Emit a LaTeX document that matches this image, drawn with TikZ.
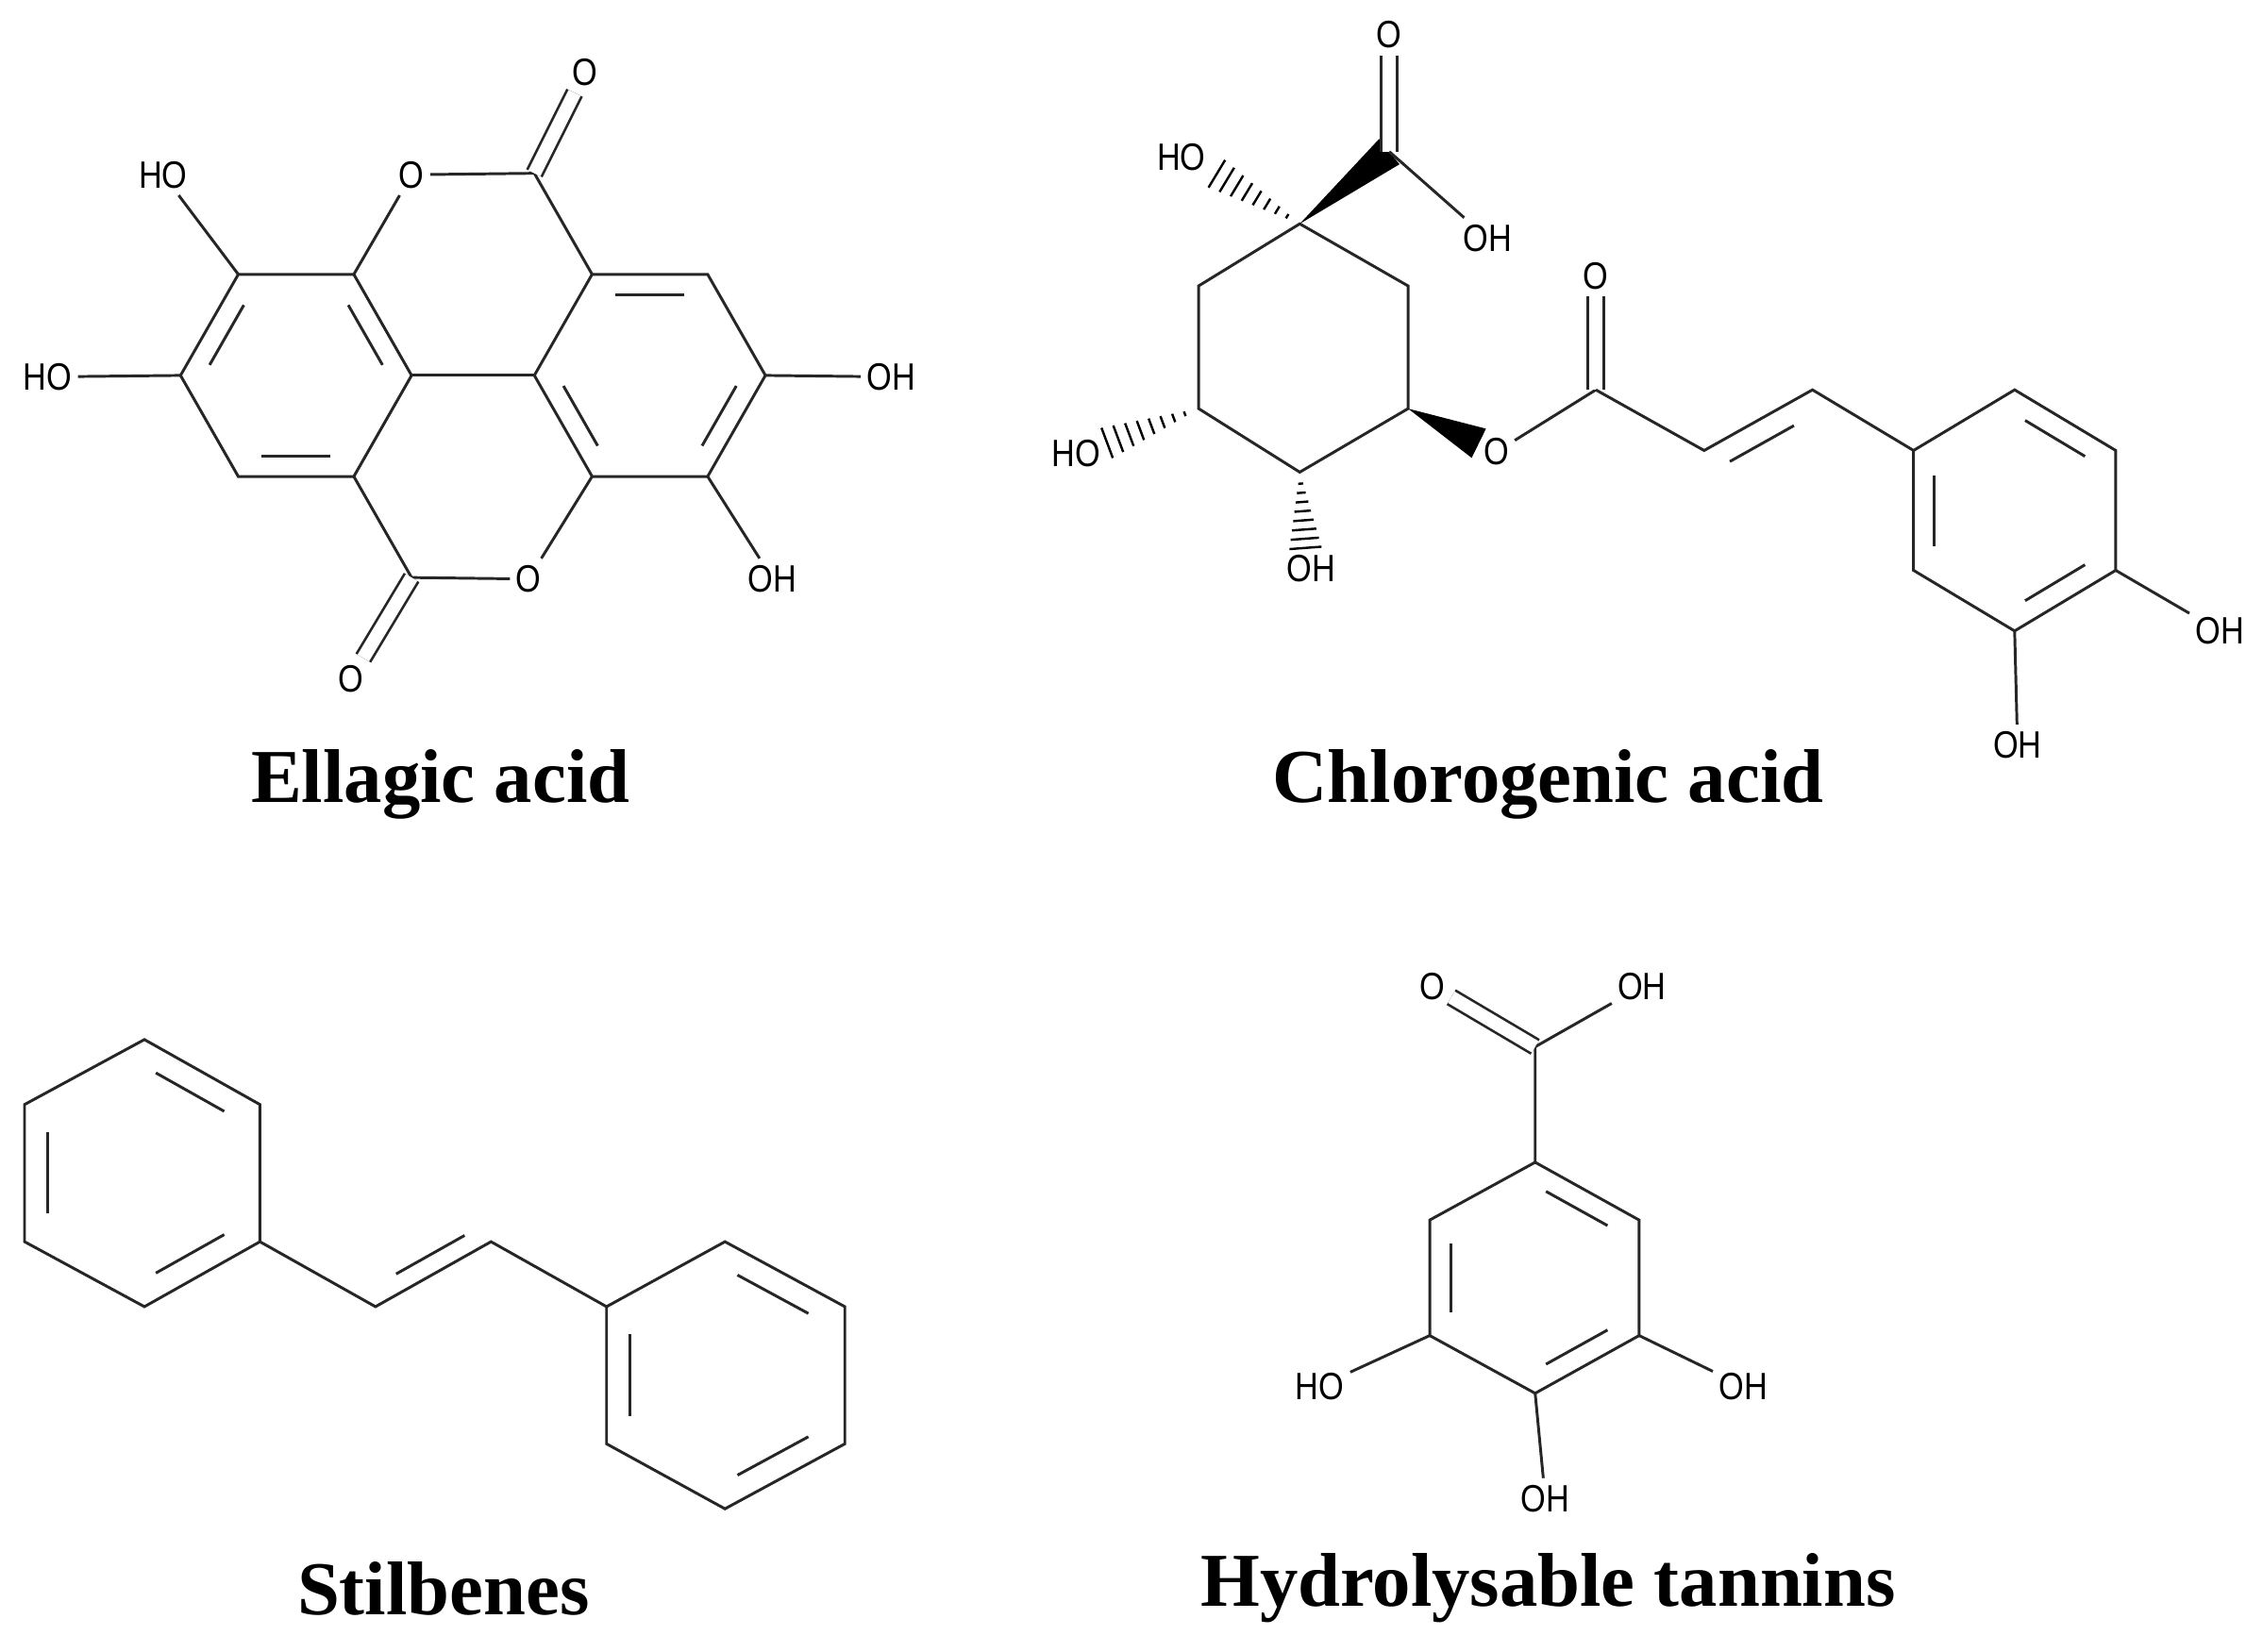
\documentclass[tikz,border=0pt]{standalone}
\usepackage{fontspec}
\setmainfont{Liberation Serif}
\newfontfamily\atomfont{Liberation Sans}
\usetikzlibrary{calc}
\tikzset{
  atom/.style={font=\atomfont\fontsize{7.5}{8}\selectfont, inner sep=1.2pt, xscale=0.85},
  title/.style={font=\bfseries\fontsize{15}{16}\selectfont},
  bond/.style={line width=0.55pt, black!85},
  dbond/.style={double=white, double distance=2.6pt, line width=0.5pt, draw=black!85}
}
\newcommand{\ib}[3]{\draw[bond] ($ ($(#1)!0.13!(#2)$)!0.2!(#3) $) -- ($ ($(#2)!0.13!(#1)$)!0.2!(#3) $);}
\newcommand{\wedgeb}[2]{\fill[black] (#1) -- ($(#2)!3.2pt!90:(#1)$) -- ($(#2)!3.2pt!-90:(#1)$) -- cycle;}
\newcommand{\hashb}[2]{\foreach \t in {0.15,0.27,...,1.0}{\draw[line width=0.45pt] ($(#1)!\t!($(#2)!3.2pt!90:(#1)$)$) -- ($(#1)!\t!($(#2)!3.2pt!-90:(#1)$)$);}}
\begin{document}
\begin{tikzpicture}[x=0.01cm,y=-0.01cm]
\useasboundingbox (0,0) rectangle (1567,1144);
% ---------------- Ellagic acid
\coordinate (a1) at (165,190); \coordinate (a2) at (245,190); \coordinate (a3) at (285,260);
\coordinate (a4) at (245,330); \coordinate (a5) at (165,330); \coordinate (a6) at (125,260);
\coordinate (b1) at (410,190); \coordinate (b2) at (490,190); \coordinate (b3) at (530,260);
\coordinate (b4) at (490,330); \coordinate (b5) at (410,330); \coordinate (b6) at (370,260);
\coordinate (cL) at (205,260); \coordinate (cR) at (450,260);
\coordinate (ct) at (370,120); \coordinate (cb) at (285,400);
\node[atom] (oT) at (285,121) {O};
\node[atom] (oB) at (366,401) {O};
\node[atom] (ooT) at (405,50) {O};
\node[atom] (ooB) at (243,470) {O};
\node[atom] (h1) at (113,121) {HO};
\node[atom] (h2) at (33,261) {HO};
\node[atom] (h3) at (617,261) {OH};
\node[atom] (h4) at (535,401) {OH};
\draw[bond] (a1)--(a2)--(a3)--(a4)--(a5)--(a6)--cycle;
\draw[bond] (b1)--(b2)--(b3)--(b4)--(b5)--(b6)--cycle;
\draw[bond] (a3)--(b6);
\ib{a1}{a6}{cL}\ib{a2}{a3}{cL}\ib{a4}{a5}{cL}
\ib{b1}{b2}{cR}\ib{b6}{b5}{cR}\ib{b3}{b4}{cR}
\draw[bond] (a2)--(oT)--(ct)--(b1);
\draw[bond] (a4)--(cb)--(oB)--(b5);
\draw[dbond] (ct)--(ooT);
\draw[dbond] (cb)--(ooB);
\draw[bond] (a1)--(h1); \draw[bond] (a6)--(h2); \draw[bond] (b3)--(h3); \draw[bond] (b4)--(h4);
\node[title] (t1) at (305,543) {Ellagic acid};
% ---------------- Chlorogenic acid
\coordinate (q1) at (900,155); \coordinate (q2) at (975,198); \coordinate (q3) at (975,283);
\coordinate (q4) at (900,327); \coordinate (q5) at (830,283); \coordinate (q6) at (830,198);
\coordinate (cc) at (962,105);
\node[atom] (co) at (962,24) {O};
\node[atom] (coh) at (1030,165) {OH};
\node[atom] (ho1) at (818,109) {HO};
\node[atom] (ho5) at (745,314) {HO};
\node[atom] (ho4) at (908,394) {OH};
\node[atom] (oe) at (1036,313) {O};
\coordinate (ce) at (1105,270);
\node[atom] (oe2) at (1105,191) {O};
\coordinate (v1) at (1180,312); \coordinate (v2) at (1255,270);
\coordinate (r1) at (1325,312); \coordinate (r2) at (1395,270); \coordinate (r3) at (1465,312);
\coordinate (r4) at (1465,395); \coordinate (r5) at (1395,437); \coordinate (r6) at (1325,395);
\coordinate (rc) at (1395,354);
\node[atom] (ro4) at (1537,437) {OH};
\node[atom] (ro5) at (1397,516) {OH};
\draw[bond] (q1)--(q2)--(q3)--(q4)--(q5)--(q6)--cycle;
\wedgeb{q1}{cc}
\draw[dbond] (cc)--(co);
\draw[bond] (cc)--(coh);
\coordinate (h1e) at (842,120); \hashb{q1}{h1e}
\coordinate (h5e) at (766,307); \hashb{q5}{h5e}
\coordinate (h4e) at (904,380); \hashb{q4}{h4e}
\coordinate (we) at (1024,307); \wedgeb{q3}{we}
\draw[bond] (oe)--(ce);
\draw[dbond] (ce)--(oe2);
\draw[bond] (ce)--(v1)--(v2)--(r1);
\coordinate (vc) at (1230,372); \ib{v1}{v2}{vc}
\draw[bond] (r1)--(r2)--(r3)--(r4)--(r5)--(r6)--cycle;
\ib{r2}{r3}{rc}\ib{r1}{r6}{rc}\ib{r4}{r5}{rc}
\draw[bond] (r4)--(ro4); \draw[bond] (r5)--(ro5);
\node[title] (t2) at (1072,543) {Chlorogenic acid};
% ---------------- Stilbenes
\coordinate (s1) at (100,720); \coordinate (s2) at (180,765); \coordinate (s3) at (180,860);
\coordinate (s4) at (100,905); \coordinate (s5) at (17,860); \coordinate (s6) at (17,765);
\coordinate (sc) at (98,812);
\coordinate (u1) at (260,905); \coordinate (u2) at (340,860);
\coordinate (p1) at (420,905); \coordinate (p2) at (502,860); \coordinate (p3) at (585,905);
\coordinate (p4) at (585,1000); \coordinate (p5) at (502,1045); \coordinate (p6) at (420,1000);
\coordinate (pc) at (502,952);
\draw[bond] (s1)--(s2)--(s3)--(s4)--(s5)--(s6)--cycle;
\ib{s1}{s2}{sc}\ib{s3}{s4}{sc}\ib{s5}{s6}{sc}
\draw[bond] (s3)--(u1)--(u2)--(p1);
\coordinate (uc) at (290,815); \ib{u1}{u2}{uc}
\draw[bond] (p1)--(p2)--(p3)--(p4)--(p5)--(p6)--cycle;
\ib{p2}{p3}{pc}\ib{p4}{p5}{pc}\ib{p6}{p1}{pc}
\node[title] (t3) at (307,1100) {Stilbenes};
% ---------------- Gallic acid
\coordinate (g1) at (1063,805); \coordinate (g2) at (1135,845); \coordinate (g3) at (1135,925);
\coordinate (g4) at (1063,965); \coordinate (g5) at (990,925); \coordinate (g6) at (990,845);
\coordinate (gc) at (1063,885);
\coordinate (gk) at (1063,725);
\node[atom] (go) at (992,683) {O};
\node[atom] (goh) at (1137,683) {OH};
\node[atom] (gh5) at (914,960) {HO};
\node[atom] (gh3) at (1207,960) {OH};
\node[atom] (gh4) at (1070,1038) {OH};
\draw[bond] (g1)--(g2)--(g3)--(g4)--(g5)--(g6)--cycle;
\ib{g1}{g2}{gc}\ib{g3}{g4}{gc}\ib{g5}{g6}{gc}
\draw[bond] (g1)--(gk)--(goh);
\draw[dbond] (gk)--(go);
\draw[bond] (g5)--(gh5); \draw[bond] (g3)--(gh3); \draw[bond] (g4)--(gh4);
\node[title] (t4) at (1072,1100) {Hydrolysable tannins};
\end{tikzpicture}
\end{document}
